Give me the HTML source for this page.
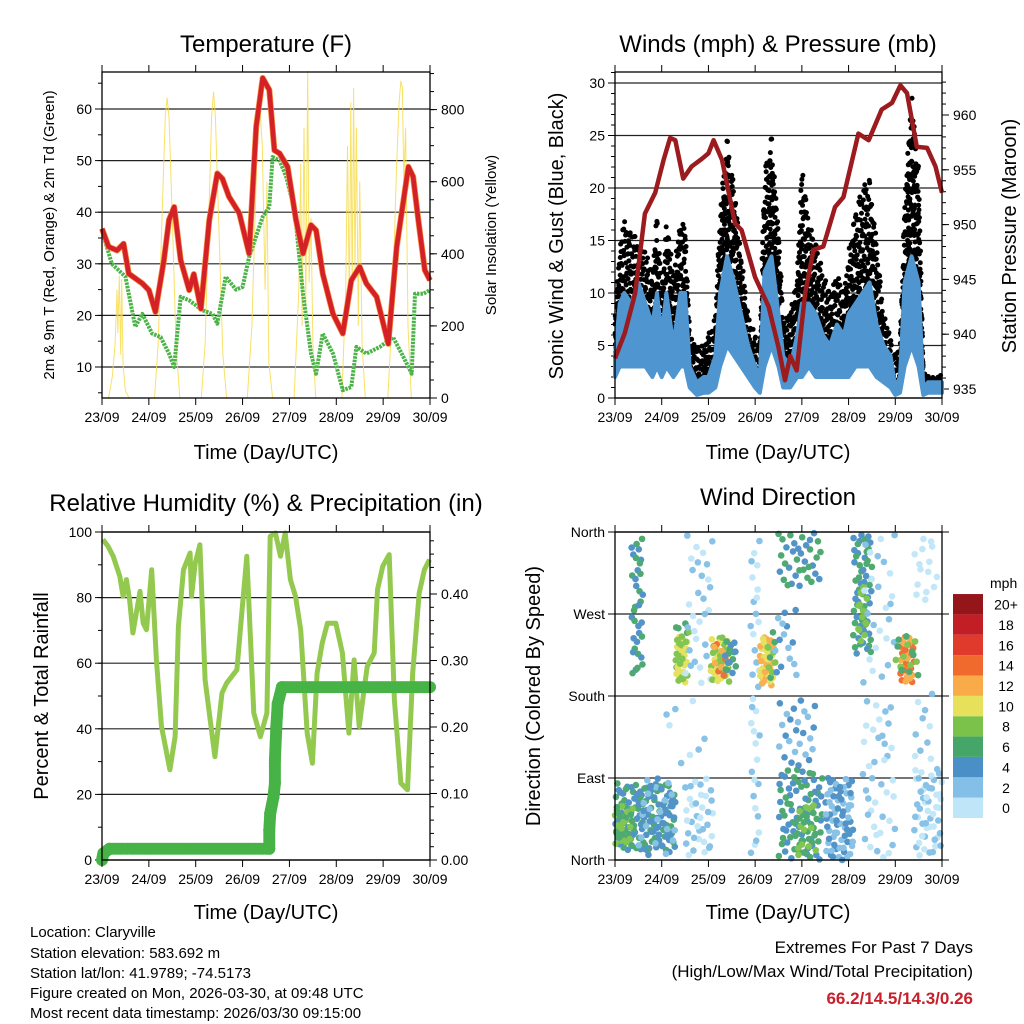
<!DOCTYPE html>
<html><head><meta charset="utf-8"><style>
html,body{margin:0;padding:0;background:#fff}
svg{display:block;font-family:"Liberation Sans",sans-serif}
</style></head><body>
<svg id="chart" xmlns="http://www.w3.org/2000/svg" width="1024" height="1024" viewBox="0 0 1024 1024">
<rect width="1024" height="1024" fill="#fff"/>
<g id="g1"></g>
<g id="g2"></g>
<g id="g3"></g>
<g id="g4"></g>
<text x="266" y="52" font-size="24" text-anchor="middle">Temperature (F)</text>
<text x="778" y="52" font-size="24" text-anchor="middle">Winds (mph) &amp; Pressure (mb)</text>
<text x="266" y="511" font-size="24" text-anchor="middle">Relative Humidity (%) &amp; Precipitation (in)</text>
<text x="778" y="505" font-size="24" text-anchor="middle">Wind Direction</text>
<text x="266" y="459" font-size="20" text-anchor="middle">Time (Day/UTC)</text>
<text x="778" y="459" font-size="20" text-anchor="middle">Time (Day/UTC)</text>
<text x="266" y="919" font-size="20" text-anchor="middle">Time (Day/UTC)</text>
<text x="778" y="919" font-size="20" text-anchor="middle">Time (Day/UTC)</text>
<text transform="translate(54,235) rotate(-90)" font-size="15" text-anchor="middle">2m &amp; 9m T (Red, Orange) &amp; 2m Td (Green)</text>
<text transform="translate(496,235) rotate(-90)" font-size="15" text-anchor="middle">Solar Insolation (Yellow)</text>
<text transform="translate(563,236) rotate(-90)" font-size="20" text-anchor="middle">Sonic Wind &amp; Gust (Blue, Black)</text>
<text transform="translate(1016,236) rotate(-90)" font-size="20" text-anchor="middle">Station Pressure (Maroon)</text>
<text transform="translate(48,696) rotate(-90)" font-size="20" text-anchor="middle">Percent &amp; Total Rainfall</text>
<text transform="translate(540,696) rotate(-90)" font-size="20" text-anchor="middle">Direction (Colored By Speed)</text>
<g font-size="15">
<text x="30" y="937">Location: Claryville</text>
<text x="30" y="958">Station elevation: 583.692 m</text>
<text x="30" y="978">Station lat/lon: 41.9789; -74.5173</text>
<text x="30" y="998">Figure created on Mon, 2026-03-30, at 09:48 UTC</text>
<text x="30" y="1018">Most recent data timestamp: 2026/03/30 09:15:00</text>
</g>
<g text-anchor="end">
<text x="973" y="953" font-size="17">Extremes For Past 7 Days</text>
<text x="973" y="977" font-size="17">(High/Low/Max Wind/Total Precipitation)</text>
<text x="973" y="1004" font-size="17" font-weight="bold" fill="#c8202a">66.2/14.5/14.3/0.26</text>
</g>
<g id="cbar"></g>
</svg>
<script>
const dayLabels=["23/09","24/09","25/09","26/09","27/09","28/09","29/09","30/09"];
// Temperature (F)
const tempT=[0,0.14,0.32,0.46,0.57,0.86,1.0,1.14,1.32,1.43,1.54,1.68,1.86,1.96,2.11,2.29,2.46,2.57,2.71,2.93,3.14,3.29,3.43,3.57,3.68,3.79,3.96,4.14,4.29,4.46,4.57,4.71,4.93,5.14,5.32,5.5,5.64,5.86,6.11,6.29,6.54,6.64,6.75,6.89,7.0];
const tempV=[36.8,33.3,32.6,33.9,28.1,26.2,24.9,20.7,30.7,38.5,41,30.7,24.9,28,21.3,38.5,47.5,46.5,43,39.8,32,56.6,66,63.7,52,51.4,48.8,38.5,32,37.5,36.5,28.1,20.3,16.5,26.8,29.4,26.2,23.6,14.5,33.3,48.8,46.9,38.5,28.8,26.8];
const dewT=[0,0.21,0.5,0.71,0.86,1.07,1.25,1.43,1.54,1.68,1.86,2.14,2.36,2.46,2.64,2.86,3.0,3.14,3.43,3.57,3.64,3.79,3.93,4.11,4.29,4.46,4.57,4.71,4.93,5.14,5.32,5.43,5.64,5.93,6.21,6.43,6.61,6.68,6.86,7.0];
const dewV=[36.5,30,27.5,17.8,20.3,16.5,15.8,12.6,10,23.6,22.9,21,20.3,18.4,27.5,25,25.5,31.3,39.1,41,50.7,50,46.9,40.4,24.2,12.6,8.7,16.5,12.6,5.5,6.1,13.9,12.6,13.9,15.8,12,8.7,24.2,24.2,24.9];
const solarT=[0,0.14,0.22,0.28,0.32,0.34,0.37,0.40,0.42,0.45,0.5,0.58,1.12,1.2,1.28,1.35,1.39,1.43,1.5,1.58,1.66,2.12,2.2,2.28,2.34,2.38,2.42,2.5,2.58,2.66,3.1,3.2,3.28,3.33,3.37,3.42,3.48,3.52,3.56,3.64,4.1,4.2,4.24,4.27,4.31,4.35,4.39,4.42,4.46,4.5,4.56,5.12,5.2,5.24,5.28,5.31,5.34,5.37,5.4,5.43,5.47,5.5,5.55,5.62,6.1,6.2,6.28,6.34,6.38,6.41,6.44,6.48,6.53,6.6,7.0];
const solarV=[0,0,60,150,300,180,340,120,330,90,20,0,0,150,500,780,833,780,500,150,0,0,150,500,780,850,780,450,120,0,0,200,560,790,805,700,300,600,100,0,0,300,650,200,750,250,907,320,500,150,0,0,300,700,250,820,300,860,350,750,200,600,150,0,0,250,620,820,880,860,600,750,200,0,0];
const tempTicks=[10,20,30,40,50,60];
const solarTicks=[0,200,400,600,800];
// Winds (mph) & pressure (mb)
const windT=[0,0.1,0.2,0.35,0.5,0.65,0.8,0.9,1.0,1.1,1.25,1.4,1.5,1.6,1.75,1.9,2.0,2.15,2.25,2.4,2.55,2.7,2.85,3.0,3.1,3.2,3.35,3.5,3.6,3.75,3.9,4.0,4.15,4.3,4.45,4.6,4.75,4.9,5.0,5.15,5.3,5.45,5.6,5.75,5.9,6.0,6.1,6.2,6.35,6.5,6.6,6.7,6.85,7.0];
const windHi=[4,9,10,9,11,9,7,10,6,10,5,10,10,3,1.5,2,2,4,10,13.5,11,8,5,3,2,12,13.5,8,4,3,6,9,9,8,6,5,7,6,8,9,10,11,7,5,4,1,2,11,13.5,11,1,1.5,1.5,1.5];
const windLo=[2,3,3,3,3,3,2,3,2,3,2,3,3,1,0.3,0.5,0.5,1,3,5,4,3,2,1,0.5,3,5,3,1,1,2,2,3,2,2,2,2,2,2,3,3,3,2,1.5,1,0.3,0.5,3,5,3,0.3,0.5,0.5,0.5];
const gustHi=[8,15,17,16,15,14,12,18,10,17,12,17,17,6,5,5,6,8,18,25,20,14,8,6,5,22,25,16,8,8,12,22,17,15,12,10,12,10,14,18,20,21,15,8,6,4,5,19,29,22,2.5,2.2,2.2,2.2];
const gustLo=[4,6,6,6,6,5,4,5,3,5,3,5,5,2,1.5,2,2,2,6,10,8,5,3,2,1,5,10,5,3,3,4,5,6,5,4,3,4,4,5,6,7,7,5,3,2,1,1.5,6,10,6,1.5,1.5,1.5,1.5];
const presT=[0,0.21,0.43,0.64,0.86,1.04,1.18,1.29,1.46,1.64,1.86,2.0,2.11,2.29,2.57,2.71,3.0,3.29,3.5,3.64,3.75,3.89,4.07,4.25,4.46,4.71,4.89,5.21,5.43,5.71,5.93,6.11,6.25,6.46,6.68,6.86,7.0];
const presV=[937.8,940.1,943.7,951,952.9,955.9,957.9,957.7,954.2,955.3,956,956.5,957.7,955.9,950.1,949.5,945.2,942.5,938.8,935.8,938,936.7,943.7,947.7,948,951.6,952.5,958.3,957.7,960.5,961.1,962.7,962,957.1,957,955.3,952.9];
const windTicks=[0,5,10,15,20,25,30];
const presTicks=[935,940,945,950,955,960];
// Relative humidity & precipitation
const rhT=[0.02,0.13,0.24,0.38,0.45,0.52,0.59,0.66,0.81,0.88,0.95,1.06,1.16,1.27,1.45,1.56,1.63,1.74,1.88,1.91,1.99,2.09,2.2,2.41,2.56,2.66,2.88,2.99,3.09,3.24,3.38,3.52,3.59,3.7,3.81,3.91,4.02,4.13,4.24,4.38,4.49,4.59,4.7,4.81,4.99,5.13,5.27,5.38,5.49,5.66,5.81,5.88,5.99,6.13,6.24,6.38,6.52,6.63,6.77,6.88,6.99];
const rhV=[97.7,95.6,92.6,86.5,80.4,85.5,79.3,69.2,81.9,72.2,70.2,88.5,61,40.7,27.5,37.6,71.2,88.5,93.6,80.4,90.5,96.1,54.9,31.5,50.9,53.9,58,76.3,92.6,44.8,37.6,44.8,98.7,99.7,92.6,99.7,85.5,80.4,70.2,38.7,29.5,57,66.1,72.2,72.2,63.1,38.7,61,40.7,59,63.1,82.4,89.5,93.1,48.8,23.4,21.4,57,81.4,88.5,91.6];
const rainT=[0,0.03,0.16,3.57,3.57,3.59,3.66,3.69,3.69,3.72,3.75,3.84,7.0];
const rainV=[0,0.01,0.017,0.017,0.045,0.07,0.095,0.115,0.15,0.2,0.235,0.26,0.26];
const rhTicks=[0,20,40,60,80,100];
const rainTicks=[0,0.1,0.2,0.3,0.4];
const rainTickLabels=["0.00","0.10","0.20","0.30","0.40"];
// Wind direction clusters (day range, direction range, speeds, count)
const clT0=[0.0,0.0,0.5,0.35,1.3,1.3,1.5,1.5,1.0,2.05,2.1,2.35,2.9,3.1,3.25,3.4,3.5,3.5,3.9,3.5,4.5,5.1,5.2,5.3,5.3,6.1,6.0,6.4,6.4,6.4];
const clT1=[1.3,0.4,1.3,0.6,1.55,1.6,2.1,2.1,2.0,2.45,2.4,2.6,3.1,3.4,3.45,3.9,4.4,4.45,4.3,4.3,5.1,5.5,5.4,6.0,6.0,6.4,6.5,7.0,6.9,6.8];
const clD0=[10,15,5,200,195,245,190,5,100,195,200,205,0,190,200,200,300,0,5,100,0,225,240,0,190,195,200,5,280,110];
const clD1=[85,60,90,355,245,260,360,90,180,245,240,240,360,245,250,280,360,100,60,180,90,360,300,180,360,245,250,100,355,190];
const clSpdA=[4,8,2,4,10,6,0,0,2,10,12,6,0,12,8,4,4,4,8,2,4,6,8,0,2,12,8,0,0,0];
const clSpdB=[6,6,4,6,8,8,2,2,0,8,14,4,2,10,6,2,6,6,6,4,2,4,8,2,0,14,6,2,0,2];
const clN=[120,30,40,35,35,6,30,35,8,40,8,15,35,40,10,15,35,80,25,25,70,60,15,40,25,35,15,50,15,10];
const speedColors=["#bfe6f8","#83bfe6","#4a8fc6","#46a66a","#7bc24a","#e6e05a","#f8ab48","#ef6a2c","#df3a2b","#c21e26","#94161b"];
const speedLabels=["0","2","4","6","8","10","12","14","16","18","20+"];

const NS="http://www.w3.org/2000/svg";
function mk(tag,attrs,parent){const e=document.createElementNS(NS,tag);for(const k in attrs)e.setAttribute(k,attrs[k]);parent.appendChild(e);return e;}
function halton(i,b){let f=1,r=0;while(i>0){f/=b;r+=f*(i%b);i=Math.floor(i/b);}return r;}
function axisLabel(parent,x,y,txt,anchor,size){const t=mk("text",{x:x,y:y,"font-size":size||14,"text-anchor":anchor},parent);t.textContent=txt;

return t;}

const P1={x0:102,x1:430,y0:72,y1:398};
const P2={x0:615,x1:942,y0:72,y1:398};
const P3={x0:102,x1:430,y0:532,y1:860};
const P4={x0:615,x1:942,y0:532,y1:860};
function xs(P,d){return P.x0+d*(P.x1-P.x0)/7;}

function frame(g,P){
  const r=mk("rect",{x:P.x0,y:P.y0,width:P.x1-P.x0,height:P.y1-P.y0,fill:"none",stroke:"#000","stroke-width":1.3},g);
  
  
  for(let i=0;i<dayLabels.length;i++){
    const x=xs(P,i);
    const tb=mk("line",{x1:x,x2:x,y1:P.y1,y2:P.y1+7,stroke:"#000","stroke-width":1},g);
    
    
    const tt=mk("line",{x1:x,x2:x,y1:P.y0,y2:P.y0-7,stroke:"#000","stroke-width":1},g);
    
    
    axisLabel(g,x,P.y1+24,dayLabels[i],"middle",14);
  }
}
function leftAxis(g,P,ticks,labels,ymap,grid,minorStep,lo,hi){
  ticks.forEach((v,i)=>{const y=ymap(v);
    if(grid){const gl=mk("line",{x1:P.x0,x2:P.x1,y1:y,y2:y,stroke:"#222","stroke-width":1.2},g);
      
      }
    const tk=mk("line",{x1:P.x0-7,x2:P.x0,y1:y,y2:y,stroke:"#000"},g);
    
    
    axisLabel(g,P.x0-10,y+5,labels[i],"end",14);});
  if(minorStep){for(let v=lo;v<=hi+1e-9;v+=minorStep){const y=ymap(v);if(y<P.y0-0.5||y>P.y1+0.5)continue;
    const m=mk("line",{x1:P.x0-4,x2:P.x0,y1:y,y2:y,stroke:"#000"},g);
    
    }}
}
function rightAxis(g,P,ticks,labels,ymap,minorStep,lo,hi){
  ticks.forEach((v,i)=>{const y=ymap(v);
    const tk=mk("line",{x1:P.x1,x2:P.x1+7,y1:y,y2:y,stroke:"#000"},g);
    
    
    axisLabel(g,P.x1+11,y+5,labels[i],"start",14);});
  if(minorStep){for(let v=lo;v<=hi+1e-9;v+=minorStep){const y=ymap(v);if(y<P.y0-0.5||y>P.y1+0.5)continue;
    const m=mk("line",{x1:P.x1,x2:P.x1+4,y1:y,y2:y,stroke:"#000"},g);
    
    }}
}
function pathFrom(P,T,V,ymap){return T.map((t,i)=>(i?"L":"M")+xs(P,t).toFixed(1)+","+ymap(V[i]).toFixed(1)).join(" ");}

// ---------- Panel 1: temperature ----------
const g1=document.getElementById("g1");
const yT=v=>109+(60-v)*5.16;
const yS=v=>398-v*0.3605;
leftAxis(g1,P1,tempTicks,tempTicks.map(String),yT,true,5,5,65);
rightAxis(g1,P1,solarTicks,solarTicks.map(String),yS,50,0,900);
const sol=mk("path",{d:pathFrom(P1,solarT,solarV,yS),fill:"none",stroke:"#f7dc4c","stroke-width":1,opacity:0.85},g1);


const dew=mk("path",{d:pathFrom(P1,dewT,dewV,yT),fill:"none",stroke:"#4bb347","stroke-width":4,"stroke-dasharray":"2.5 1","stroke-linejoin":"round"},g1);


const t9=mk("path",{d:pathFrom(P1,tempT,tempV,yT),fill:"none",stroke:"#f58a3a","stroke-width":6,"stroke-linejoin":"round"},g1);


const t2=mk("path",{d:pathFrom(P1,tempT,tempV,yT),fill:"none",stroke:"#d42027","stroke-width":4.6,"stroke-linejoin":"round"},g1);


frame(g1,P1);

// ---------- Panel 2: winds & pressure ----------
const g2=document.getElementById("g2");
const yW=v=>398-v*10.5;
const yP=v=>389-(v-935)*10.96;
leftAxis(g2,P2,windTicks,windTicks.map(String),yW,true,1,0,31);
rightAxis(g2,P2,presTicks,presTicks.map(String),yP,1,934,964);
const gustG=mk("g",{fill:"#000"},g2);


let hk=1;
for(let i=0;i<windT.length-1;i++){
  const ta=windT[i],tb=windT[i+1];
  const hiM=Math.max(gustHi[i],gustHi[i+1]), loM=Math.min(gustLo[i],gustLo[i+1]);
  const n=Math.round((hiM-loM)*(tb-ta)*32)+3;
  for(let k=0;k<n;k++,hk++){
    const f=halton(hk,2), t=ta+(tb-ta)*f;
    const hi=gustHi[i]+(gustHi[i+1]-gustHi[i])*f, lo=gustLo[i]+(gustLo[i+1]-gustLo[i])*f;
    const v=lo+(hi-lo)*Math.pow(halton(hk,3),1.3);
    const c=mk("circle",{cx:xs(P2,t),cy:yW(v),r:2.5},gustG);
    
    
  }
}
let bd=windT.map((t,i)=>(i?"L":"M")+xs(P2,t).toFixed(1)+","+yW(windHi[i]).toFixed(1)).join(" ");
for(let i=windT.length-1;i>=0;i--)bd+=" L"+xs(P2,windT[i]).toFixed(1)+","+yW(windLo[i]).toFixed(1);
const band=mk("path",{d:bd+" Z",fill:"#4f95cf",stroke:"#4f95cf","stroke-width":4,"stroke-linejoin":"round"},g2);


const pres=mk("path",{d:pathFrom(P2,presT,presV,yP),fill:"none",stroke:"#9b1b1e","stroke-width":4.5,"stroke-linejoin":"round"},g2);


frame(g2,P2);

// ---------- Panel 3: RH & precip ----------
const g3=document.getElementById("g3");
const yR=v=>860-v*3.28;
const yIn=v=>860-v*665;
leftAxis(g3,P3,rhTicks,rhTicks.map(String),yR,true,10,0,100);
rightAxis(g3,P3,rainTicks,rainTickLabels,yIn,0.02,0,0.48);
const rh=mk("path",{d:pathFrom(P3,rhT,rhV,yR),fill:"none",stroke:"#93c94f","stroke-width":5,"stroke-linejoin":"round"},g3);


const rainG=mk("g",{fill:"#47b346"},g3);


for(let i=0;i<rainT.length-1;i++){
  const x0=xs(P3,rainT[i]),y0=yIn(rainV[i]),x1=xs(P3,rainT[i+1]),y1=yIn(rainV[i+1]);
  const len=Math.hypot(x1-x0,y1-y0),n=Math.max(1,Math.ceil(len/3));
  for(let k=0;k<=n;k++){const f=k/n;
    const c=mk("circle",{cx:x0+(x1-x0)*f,cy:y0+(y1-y0)*f,r:6},rainG);
    
    }
}
frame(g3,P3);

// ---------- Panel 4: wind direction ----------
const g4=document.getElementById("g4");
const yD=v=>860-v*328/360;
const dirTicks=[0,90,180,270,360];
const dirLabels=["North","East","South","West","North"];
leftAxis(g4,P4,dirTicks,dirLabels,yD,true,0,0,0);
dirTicks.forEach(v=>{const y=yD(v);const tk=mk("line",{x1:P4.x1,x2:P4.x1+7,y1:y,y2:y,stroke:"#000"},g4);
  
  });
const dirG=mk("g",{opacity:0.95},g4);


let dk=7;
for(let c=0;c<clN.length;c++){
  for(let k=0;k<clN[c];k++,dk++){
    const fa=halton(dk,2), fb=halton(dk,3);
    const t=clT0[c]+(clT1[c]-clT0[c])*fa, d=clD0[c]+(clD1[c]-clD0[c])*fb;
    const spd=(halton(dk,5)<0.5)?clSpdB[c]:clSpdA[c];
    const col=speedColors[Math.min(10,Math.floor(spd/2))];
    const p=mk("circle",{cx:xs(P4,t),cy:yD(d),r:3.3,fill:col},dirG);
    
    
  }
}
frame(g4,P4);

// colorbar
const cb=document.getElementById("cbar");
const ml=mk("text",{x:990,y:588,"font-size":14},cb);ml.textContent="mph";


for(let i=0;i<speedColors.length;i++){
  const y=818-(i+1)*20.36;
  const r=mk("rect",{x:953,y:y,width:30,height:20.36,fill:speedColors[i]},cb);
  
  
  const t=mk("text",{x:1006,y:y+15.5,"font-size":14,"text-anchor":"middle"},cb);t.textContent=speedLabels[i];
  
  
}
</script>
</body></html>
